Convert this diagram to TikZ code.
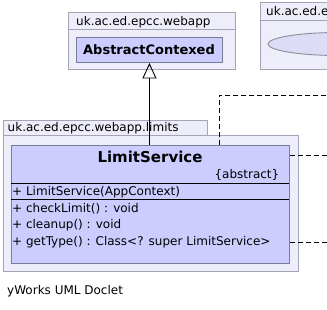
\documentclass[tikz,border=0pt]{standalone}
\usepackage{fontspec}
\setmainfont{DejaVu Sans}
\usetikzlibrary{arrows.meta,shapes.geometric}
\definecolor{pkgfill}{HTML}{EEEEFA}
\definecolor{pkgline}{HTML}{A4A4B4}
\definecolor{clsfill}{HTML}{CCCCFF}
\definecolor{clsline}{HTML}{7C7C98}
\definecolor{ellfill}{HTML}{DCDCF6}
\definecolor{ellline}{HTML}{8A8A9C}
\tikzset{
  pkgbox/.style={draw=pkgline, fill=pkgfill, line width=0.9pt, inner sep=0pt, anchor=north west},
  clsbox/.style={draw=clsline, fill=clsfill, line width=0.9pt, inner sep=0pt, anchor=north west},
  txt/.style={inner sep=0pt, anchor=base west, font=\fontsize{12}{14}\selectfont},
  sep/.style={draw=black, line width=0.9pt},
  depend/.style={draw=black, line width=0.8pt, dash pattern=on 5pt off 3pt},
  inherit/.style={draw=black, line width=0.9pt, -{Triangle[open, length=15.5pt, width=14pt]}}
}
\begin{document}
\begin{tikzpicture}[x=1pt, y=-1pt]
  \useasboundingbox (0,0) rectangle (327,309);
  \begin{scope}
  \clip (0,0) rectangle (327,309);

  % package uk.ac.ed.epcc.webapp
  \node[pkgbox, minimum width=167pt, minimum height=57pt] (webapp) at (68,12) {};
  \draw[pkgline, line width=0.9pt] (68,29) -- (235,29);
  \node[txt] (webappname) at (76,25) {uk.ac.ed.epcc.webapp};
  \node[clsbox, minimum width=146pt, minimum height=25pt] (abs) at (76,37) {};
  \node[inner sep=0pt, anchor=base, font=\fontsize{13}{15}\selectfont\bfseries] (absname) at (149,54.5) {AbstractContexed};

  % package cut at the right edge
  \node[pkgbox, minimum width=90pt, minimum height=67pt] (other) at (260,2) {};
  \draw[pkgline, line width=0.9pt] (260,20.5) -- (350,20.5);
  \node[txt] (othername) at (266,15.5) {uk.ac.ed.epcc};
  \node[draw=ellline, fill=ellfill, line width=0.9pt, ellipse, minimum width=140pt, minimum height=23pt, inner sep=0pt] (oval) at (338,44) {};

  % package uk.ac.ed.epcc.webapp.limits
  \node[pkgbox, minimum width=204pt, minimum height=15pt] (limtab) at (3,120) {};
  \node[pkgbox, minimum width=295pt, minimum height=136pt] (limits) at (3,135) {};
  \node[txt] (limitsname) at (7.5,131) {uk.ac.ed.epcc.webapp.limits};

  % class LimitService
  \node[clsbox, minimum width=278pt, minimum height=118pt] (ls) at (11,145) {};
  \node[inner sep=0pt, anchor=base, font=\fontsize{15}{17}\selectfont\bfseries] (lsname) at (150,162.5) {LimitService};
  \node[inner sep=0pt, anchor=base east, font=\fontsize{12}{14}\selectfont] (lsabs) at (279.5,178) {\{abstract\}};
  \draw[sep] (11,183) -- (289,183);
  \node[txt] (ctor) at (12,195) {+ LimitService(AppContext)};
  \draw[sep] (11,199) -- (289,199);
  \node[txt] (m1) at (12,212) {+ checkLimit() : void};
  \node[txt] (m2) at (12,228.5) {+ cleanup() : void};
  \node[txt] (m3) at (12,245) {+ getType() : Class<? super LimitService>};

  % generalisation
  \draw[inherit] (ls.north -| abs.south) -- (abs.south);

  % dependencies leaving to the right
  \coordinate (bend) at (219,95);
  \coordinate (outA) at (330,95);
  \coordinate (outB) at (330,155);
  \coordinate (outC) at (330,242.5);
  \draw[depend] (ls.north -| bend) -- (bend) -- (outA);
  \draw[depend] (ls.east |- outB) -- (outB);
  \draw[depend] (ls.east |- outC) -- (outC);
  \end{scope}

  \node[txt] (credit) at (7,294) {yWorks UML Doclet};
\end{tikzpicture}
\end{document}
